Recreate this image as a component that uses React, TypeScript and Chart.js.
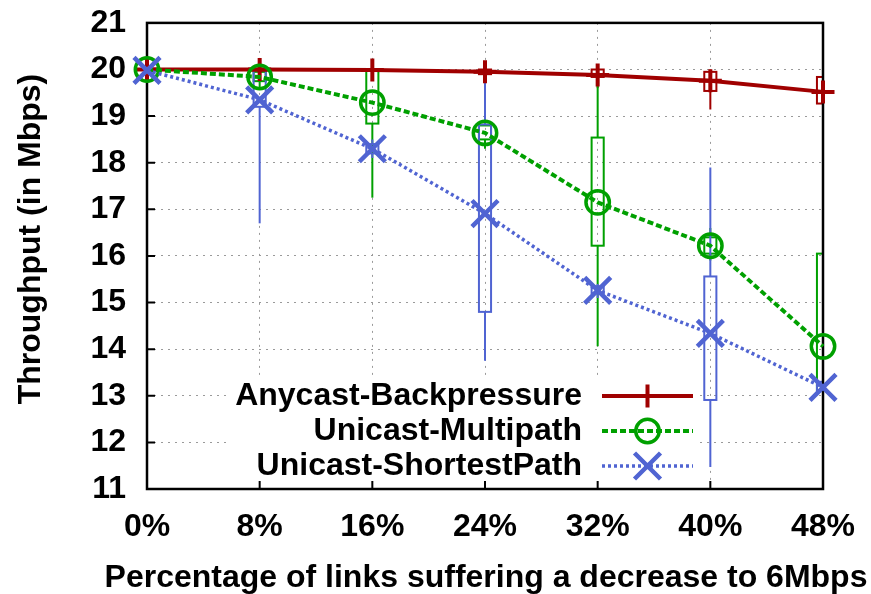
import { useEffect, useRef } from "react";
import { Chart, registerables } from "chart.js";
import { drawPoint } from "chart.js/helpers";

Chart.register(...registerables);

// Share of links whose capacity drops to 6 Mbps (x axis, in %)
const percentages = [0, 8, 16, 24, 32, 40, 48];

const seriesNames = ["Anycast-Backpressure", "Unicast-Multipath", "Unicast-ShortestPath"];
const xTitle = "Percentage of links suffering a decrease to 6Mbps";
const yTitle = "Throughput (in Mbps)";

// Anycast-Backpressure throughput (Mbps): mean, box (q1..q3) and whiskers (min..max)
const backpressureMean = [20.0, 20.0, 19.99, 19.95, 19.88, 19.76, 19.52];
const backpressureMin = [19.98, 19.95, 19.95, 19.85, 19.6, 19.14, 19.2];
const backpressureQ1 = [19.99, 19.97, 19.97, 19.9, 19.84, 19.54, 19.27];
const backpressureQ3 = [20.0, 20.0, 20.0, 20.0, 20.0, 19.95, 19.84];
const backpressureMax = [20.0, 20.0, 20.0, 20.0, 20.0, 20.0, 19.9];

// Unicast-Multipath throughput (Mbps)
const multipathMean = [20.0, 19.84, 19.29, 18.64, 17.15, 16.22, 14.06];
const multipathMin = [19.95, 19.6, 17.25, 18.3, 14.06, 15.9, 13.12];
const multipathQ1 = [19.98, 19.75, 18.84, 18.5, 16.22, 16.05, 13.12];
const multipathQ3 = [20.0, 19.95, 20.0, 18.8, 18.54, 16.4, 16.05];
const multipathMax = [20.0, 20.0, 20.0, 19.0, 19.65, 16.6, 16.05];

// Unicast-ShortestPath throughput (Mbps)
const shortestMean = [19.98, 19.35, 18.3, 16.91, 15.26, 14.34, 13.18];
const shortestMin = [19.9, 16.7, 18.1, 13.75, 15.1, 11.47, 13.0];
const shortestQ1 = [19.95, 19.2, 18.2, 14.8, 15.2, 12.91, 13.1];
const shortestQ3 = [20.0, 20.0, 18.4, 18.82, 15.35, 15.56, 13.3];
const shortestMax = [20.0, 20.0, 18.5, 20.0, 15.4, 17.9, 13.35];

const RED = "#a00000";
const GREEN = "#00a000";
const BLUE = "#5064d2";
const FONT = "'Liberation Sans', Arial, Helvetica, sans-serif";
const TEXT_FONT = `bold 32px ${FONT}`;

const boxSeries = [
  { color: RED, min: backpressureMin, q1: backpressureQ1, q3: backpressureQ3, max: backpressureMax },
  { color: GREEN, min: multipathMin, q1: multipathQ1, q3: multipathQ3, max: multipathMax },
  { color: BLUE, min: shortestMin, q1: shortestQ1, q3: shortestQ3, max: shortestMax },
];

const BOX_HALF_WIDTH = 0.43; // in x-axis units (percent)

// Legend area inside the plot (bottom right), opaque white like a gnuplot key
const legendBox = { left: 228, right: 700, top: 379, bottom: 481 };
const legendTextRight = 582;
const legendSample = { left: 602, right: 693 };
const legendRowY = [396, 431, 466];

const boxPlotPlugin = {
  id: "boxPlot",
  beforeDatasetsDraw(chart: any) {
    const { ctx, chartArea, scales } = chart;
    const x = scales.x;
    const y = scales.y;

    // key background hides the grid underneath it
    ctx.save();
    ctx.fillStyle = "#ffffff";
    ctx.fillRect(legendBox.left, legendBox.top, legendBox.right - legendBox.left, legendBox.bottom - legendBox.top);
    ctx.restore();

    // candlestick boxes and whiskers, clipped to the plot area
    ctx.save();
    ctx.beginPath();
    ctx.rect(chartArea.left, chartArea.top, chartArea.right - chartArea.left, chartArea.bottom - chartArea.top);
    ctx.clip();
    ctx.lineWidth = 2;
    ctx.setLineDash([]);
    for (const s of boxSeries) {
      ctx.strokeStyle = s.color;
      percentages.forEach((p, i) => {
        const cx = x.getPixelForValue(p);
        const half = x.getPixelForValue(p + BOX_HALF_WIDTH) - cx;
        const yMin = y.getPixelForValue(s.min[i]);
        const yQ1 = y.getPixelForValue(s.q1[i]);
        const yQ3 = y.getPixelForValue(s.q3[i]);
        const yMax = y.getPixelForValue(s.max[i]);
        ctx.beginPath();
        ctx.moveTo(cx, yMax);
        ctx.lineTo(cx, yQ3);
        ctx.moveTo(cx, yQ1);
        ctx.lineTo(cx, yMin);
        ctx.stroke();
        ctx.strokeRect(cx - half, yQ3, half * 2, yQ1 - yQ3);
      });
    }
    ctx.restore();

    // black frame with inward tick marks on the left and bottom axes
    ctx.save();
    ctx.strokeStyle = "#000000";
    ctx.lineWidth = 2.5;
    ctx.setLineDash([]);
    ctx.strokeRect(chartArea.left, chartArea.top, chartArea.right - chartArea.left, chartArea.bottom - chartArea.top);
    ctx.lineWidth = 2;
    ctx.beginPath();
    for (const t of y.ticks) {
      const py = y.getPixelForValue(t.value);
      ctx.moveTo(chartArea.left, py);
      ctx.lineTo(chartArea.left + 8, py);
    }
    for (const t of x.ticks) {
      const px = x.getPixelForValue(t.value);
      ctx.moveTo(px, chartArea.bottom);
      ctx.lineTo(px, chartArea.bottom - 8);
    }
    ctx.stroke();
    ctx.restore();
  },
  afterDatasetsDraw(chart: any) {
    const { ctx } = chart;
    ctx.save();
    chart.data.datasets.forEach((ds: any, i: number) => {
      const rowY = legendRowY[i];
      ctx.fillStyle = "#000000";
      ctx.font = TEXT_FONT;
      ctx.textAlign = "right";
      ctx.textBaseline = "middle";
      ctx.fillText(ds.label, legendTextRight, rowY);

      ctx.strokeStyle = ds.borderColor;
      ctx.lineWidth = ds.borderWidth;
      ctx.setLineDash(ds.borderDash || []);
      ctx.beginPath();
      ctx.moveTo(legendSample.left, rowY);
      ctx.lineTo(legendSample.right, rowY);
      ctx.stroke();

      ctx.setLineDash([]);
      ctx.lineWidth = ds.pointBorderWidth;
      ctx.fillStyle = "rgba(0,0,0,0)";
      drawPoint(
        ctx,
        { pointStyle: ds.pointStyle, radius: ds.pointRadius, rotation: 0, borderWidth: ds.pointBorderWidth },
        (legendSample.left + legendSample.right) / 2,
        rowY
      );
    });
    ctx.restore();
  },
  afterDraw(chart: any) {
    const { ctx, chartArea } = chart;
    ctx.save();
    ctx.fillStyle = "#000000";
    ctx.font = TEXT_FONT;
    ctx.textAlign = "center";
    ctx.textBaseline = "alphabetic";
    // axis titles are drawn at full width (wider than the plot area)
    ctx.fillText(xTitle, (chartArea.left + chartArea.right) / 2 + 1, 587);
    ctx.translate(40, 239);
    ctx.rotate(-Math.PI / 2);
    ctx.fillText(yTitle, 0, 0);
    ctx.restore();
  },
};

function toPoints(values: number[]) {
  return percentages.map((p, i) => ({ x: p, y: values[i] }));
}

export default function App() {
  const canvasRef = useRef<HTMLCanvasElement | null>(null);

  useEffect(() => {
    document.body.style.margin = "0";
    const canvas = canvasRef.current;
    if (!canvas) return;

    const chart = new Chart(canvas, {
      type: "line",
      data: {
        datasets: [
          {
            label: seriesNames[0],
            data: toPoints(backpressureMean),
            borderColor: RED,
            backgroundColor: RED,
            borderWidth: 4,
            borderDash: [],
            pointStyle: "cross",
            pointRadius: 11.5,
            pointBorderWidth: 4,
            pointBorderColor: RED,
            pointBackgroundColor: "rgba(0,0,0,0)",
            clip: false,
            order: 3,
          },
          {
            label: seriesNames[1],
            data: toPoints(multipathMean),
            borderColor: GREEN,
            backgroundColor: GREEN,
            borderWidth: 4,
            borderDash: [6, 3],
            pointStyle: "circle",
            pointRadius: 11.7,
            pointBorderWidth: 3.5,
            pointBorderColor: GREEN,
            pointBackgroundColor: "rgba(0,0,0,0)",
            clip: false,
            order: 2,
          },
          {
            label: seriesNames[2],
            data: toPoints(shortestMean),
            borderColor: BLUE,
            backgroundColor: BLUE,
            borderWidth: 3.5,
            borderDash: [3, 3],
            pointStyle: "crossRot",
            pointRadius: 18.4,
            pointBorderWidth: 4.5,
            pointBorderColor: BLUE,
            pointBackgroundColor: "rgba(0,0,0,0)",
            clip: false,
            order: 1,
          },
        ] as any,
      },
      options: {
        animation: false,
        responsive: true,
        maintainAspectRatio: false,
        devicePixelRatio: 1,
        layout: { padding: { top: 22, right: 48, left: 0, bottom: 0 } },
        plugins: {
          legend: { display: false },
          tooltip: { enabled: false },
        },
        elements: { line: { tension: 0 } },
        scales: {
          x: {
            type: "linear",
            min: 0,
            max: 48,
            grid: { color: "#9a9a9a", lineWidth: 1, drawTicks: false },
            border: { display: false, dash: [2, 5] },
            ticks: {
              stepSize: 8,
              maxRotation: 0,
              autoSkip: false,
              padding: 19,
              color: "#000000",
              font: { family: FONT, size: 32, weight: "bold" },
              callback: (v: any) => `${v}%`,
            },
            afterFit: (scale: any) => {
              scale.height = 105;
              scale.paddingLeft = 0;
              scale.paddingRight = 0;
            },
          },
          y: {
            min: 11,
            max: 21,
            grid: { color: "#9a9a9a", lineWidth: 1, drawTicks: false },
            border: { display: false, dash: [2, 5] },
            ticks: {
              stepSize: 1,
              padding: 21,
              color: "#000000",
              font: { family: FONT, size: 32, weight: "bold" },
            },
            afterFit: (scale: any) => {
              scale.width = 147;
              scale.paddingTop = 0;
              scale.paddingBottom = 0;
            },
          },
        },
      } as any,
      plugins: [boxPlotPlugin],
    });

    return () => chart.destroy();
  }, []);

  return (
    <div style={{ position: "absolute", left: 0, top: 0, width: 871, height: 594 }}>
      <canvas ref={canvasRef} />
    </div>
  );
}
